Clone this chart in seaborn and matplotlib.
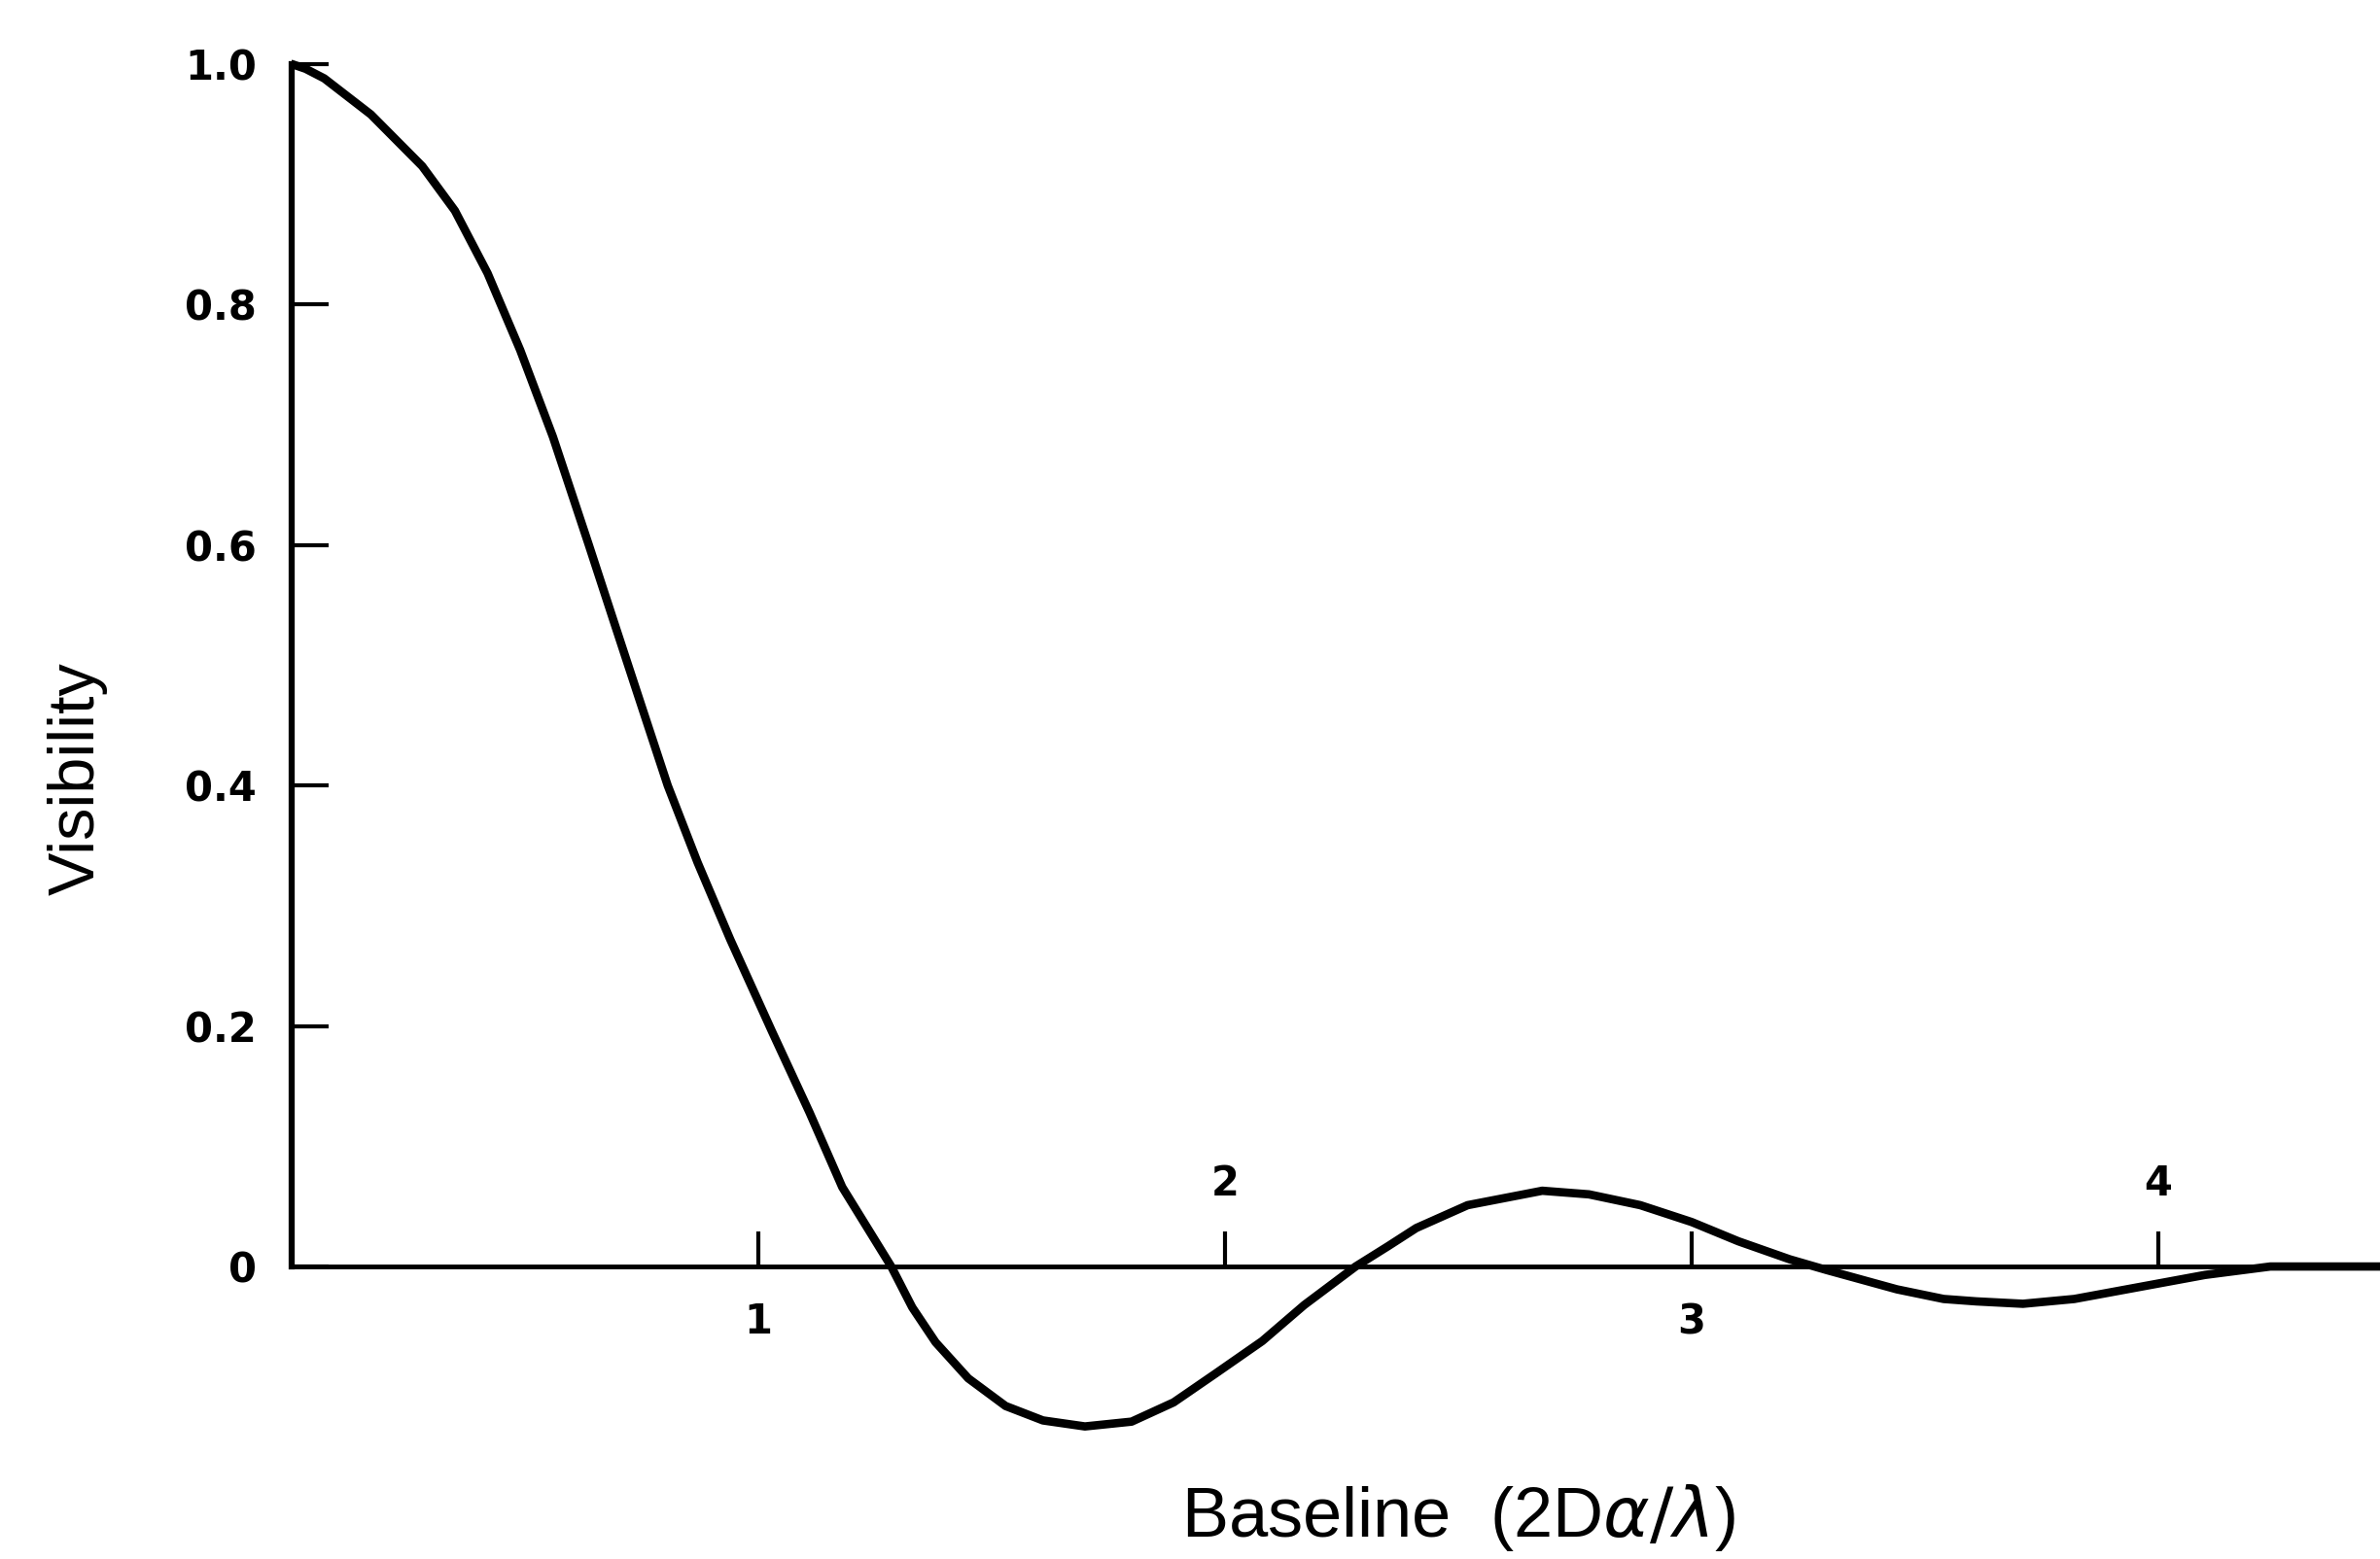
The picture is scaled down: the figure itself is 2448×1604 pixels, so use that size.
import numpy as np
import pandas as pd
import matplotlib
matplotlib.use("Agg")
import matplotlib.pyplot as plt
import seaborn as sns

# ---- data ----
baseline = [0.0, 0.03, 0.07, 0.17, 0.28, 0.35, 0.42, 0.49, 0.56, 0.637, 0.69, 0.75, 0.806,
            0.87, 0.94, 1.03, 1.11, 1.18, 1.285, 1.33, 1.38, 1.45, 1.53, 1.61, 1.70,
            1.80, 1.89, 1.98, 2.08, 2.17, 2.28, 2.35, 2.41, 2.52, 2.68, 2.78, 2.89,
            3.00, 3.10, 3.21, 3.29, 3.44, 3.54, 3.61, 3.71, 3.82, 3.96, 4.10, 4.24, 4.475]
visibility = [1.0, 0.996, 0.988, 0.958, 0.915, 0.878, 0.826, 0.762, 0.690, 0.600, 0.537, 0.466, 0.400,
              0.336, 0.272, 0.195, 0.128, 0.066, 0.0, -0.034, -0.063, -0.093, -0.116, -0.128, -0.133,
              -0.129, -0.113, -0.089, -0.062, -0.032, 0.0, 0.017, 0.032, 0.051, 0.063, 0.060, 0.051,
              0.037, 0.021, 0.006, -0.003, -0.019, -0.027, -0.029, -0.031, -0.027, -0.017, -0.007, 0.0, 0.0]
y_ticks = [0.0, 0.2, 0.4, 0.6, 0.8, 1.0]
y_tick_labels = ["0", "0.2", "0.4", "0.6", "0.8", "1.0"]
x_ticks_below = [1, 3]
x_ticks_above = [2, 4]
x_label = r"Baseline  (2D$\alpha/\lambda$)"
y_label = "Visibility"

df = pd.DataFrame({"baseline": baseline, "visibility": visibility})

sns.set_style("white")
plt.rcParams["font.family"] = ["Liberation Sans", "DejaVu Sans"]
plt.rcParams["mathtext.fontset"] = "dejavusans"
plt.rcParams["text.color"] = "black"

fig = plt.figure(figsize=(24.48, 16.04), dpi=100)
ax = fig.add_axes([0.1225, 0.0642, 0.8775, 0.9102])

sns.lineplot(data=df, x="baseline", y="visibility", ax=ax, color="black",
             linewidth=6.2, sort=False, estimator=None,
             solid_joinstyle="round", solid_capstyle="round")

ax.set_xlim(0, 4.475)
ax.set_ylim(-0.16, 1.02)

for s in ["top", "right"]:
    ax.spines[s].set_visible(False)
ax.spines["bottom"].set_position(("data", 0))
ax.spines["left"].set_bounds(0, 1.0)
ax.spines["left"].set_linewidth(4.5)
ax.spines["bottom"].set_linewidth(3.5)
ax.spines["left"].set_color("black")
ax.spines["bottom"].set_color("black")

ax.set_yticks(y_ticks)
ax.set_yticklabels(y_tick_labels)
ax.set_xticks(x_ticks_below + x_ticks_above)
ax.set_xticklabels([str(v) for v in x_ticks_below] + ["" for _ in x_ticks_above])

ax.tick_params(axis="y", direction="in", length=27, width=3, pad=26,
               labelsize=30, colors="black", left=True)
ax.tick_params(axis="x", direction="in", length=26, width=3, pad=26,
               labelsize=30, colors="black", bottom=True)
for lab in ax.get_yticklabels() + ax.get_xticklabels():
    lab.set_fontweight("bold")
    lab.set_family(["DejaVu Sans"])

for v in x_ticks_above:
    ax.annotate(str(v), xy=(v, 0), xytext=(0, 61), textcoords="offset points",
                ha="center", va="center", fontsize=30, fontweight="bold",
                family=["DejaVu Sans"], color="black")

ax.set_xlabel("")
ax.set_ylabel("")
fig.text(1500 / 2448, 1 - 1561 / 1604, x_label, ha="center", va="center",
         fontsize=52, color="black")
fig.text(80 / 2448, 1 - 801 / 1604, y_label, ha="center", va="center", fontsize=48,
         rotation=90, color="black")

fig.savefig("out.png", dpi=100, facecolor="white")
